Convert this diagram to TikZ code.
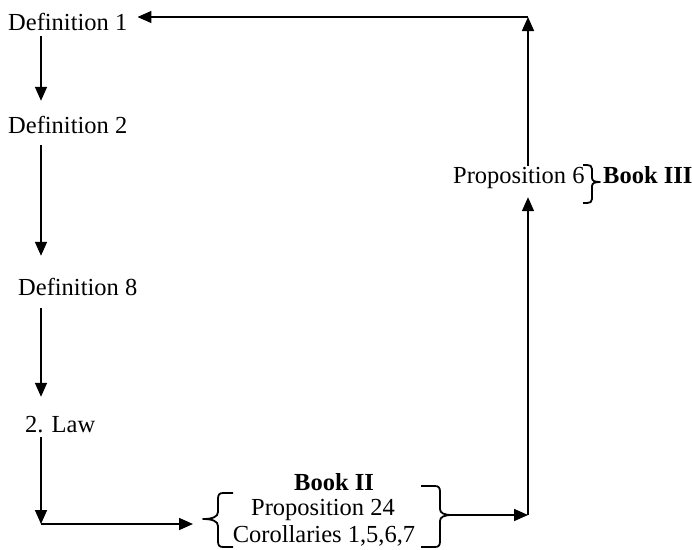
\documentclass[tikz,border=0pt]{standalone}
\usepackage{fontspec}
\setmainfont{Liberation Serif}
\usetikzlibrary{arrows.meta,calc}
\begin{document}
\begin{tikzpicture}[x=1pt,y=-1pt,
 lbl/.style={inner sep=0pt, text height=17pt, text depth=5pt, font=\fontsize{24.5}{28}\selectfont},
 arr/.style={line width=1.6pt, -{Triangle[length=14pt,width=12pt]}},
 brc/.style={line width=1.8pt, line join=round}]
\useasboundingbox (0,0) rectangle (692,549);
% nodes
\node[lbl, anchor=base west] (d1) at (8,30) {Definition 1};
\node[lbl, anchor=base west] (d2) at (8,133) {Definition 2};
\node[lbl, anchor=base west] (d8) at (18,295) {Definition 8};
\node[lbl, anchor=base west] (law) at (25,432) {2. Law};
\node[lbl, anchor=base] (b2) at (334,490) {\bfseries Book II};
\node[lbl, anchor=base] (p24) at (323,515) {Proposition 24};
\node[lbl, anchor=base] (cor) at (324,542) {Corollaries 1,5,6,7};
\node[lbl, anchor=base west] (p6) at (453,183) {Proposition 6};
\node[lbl, anchor=base west] (b3) at (603,183) {\bfseries Book III};
% coordinates
\coordinate (colA) at (41,0);
\coordinate (c1) at (41,524);
\coordinate (c2) at (528,17);
\coordinate (c3) at (528,515);
\coordinate (lbt) at (203,519);
\coordinate (rbt) at (452,515);
\coordinate (p6t) at (600,182);
% braces
\draw[brc] (233,493) -- (223,493) .. controls (219,493) and (218,495) .. (218,499) -- (218,512)
  .. controls (218,517) and (212,519) .. (lbt) .. controls (212,519) and (218,521) .. (218,526)
  -- (218,541) .. controls (218,545) and (219,547) .. (223,547) -- (233,547);
\draw[brc] (421,486) -- (435,486) .. controls (439,486) and (440,488) .. (440,492) -- (440,509)
  .. controls (440,513) and (444,515) .. (rbt) .. controls (444,515) and (440,517) .. (440,521)
  -- (440,541) .. controls (440,545) and (439,547) .. (435,547) -- (421,547);
\draw[brc] (583,165) -- (587,165) .. controls (590,165) and (592,166) .. (592,169) -- (592,178)
  .. controls (592,181) and (595,182) .. (p6t) .. controls (595,182) and (592,183) .. (592,186)
  -- (592,199) .. controls (592,202) and (590,203) .. (587,203) -- (583,203);
% arrows
\draw[arr, shorten <=1pt, shorten >=15pt] (d1.south -| colA) -- (d2.north -| colA);
\draw[arr, shorten <=7pt, shorten >=22pt] (d2.south -| colA) -- (d8.north -| colA);
\draw[arr, shorten <=8pt, shorten >=18pt] (d8.south -| colA) -- (law.north -| colA);
\draw[arr] (law.south -| colA) -- (c1);
\draw[arr, shorten >=10pt] (c1) -- (c1 -| lbt);
\draw[arr] (rbt) -- (c3);
\draw[arr, shorten >=9pt] (c3) -- (p6.south -| c3);
\draw[arr] (p6.north -| c3) -- (c2);
\draw[arr, shorten >=10pt] (c2) -- (c2 -| d1.east);
\end{tikzpicture}
\end{document}
